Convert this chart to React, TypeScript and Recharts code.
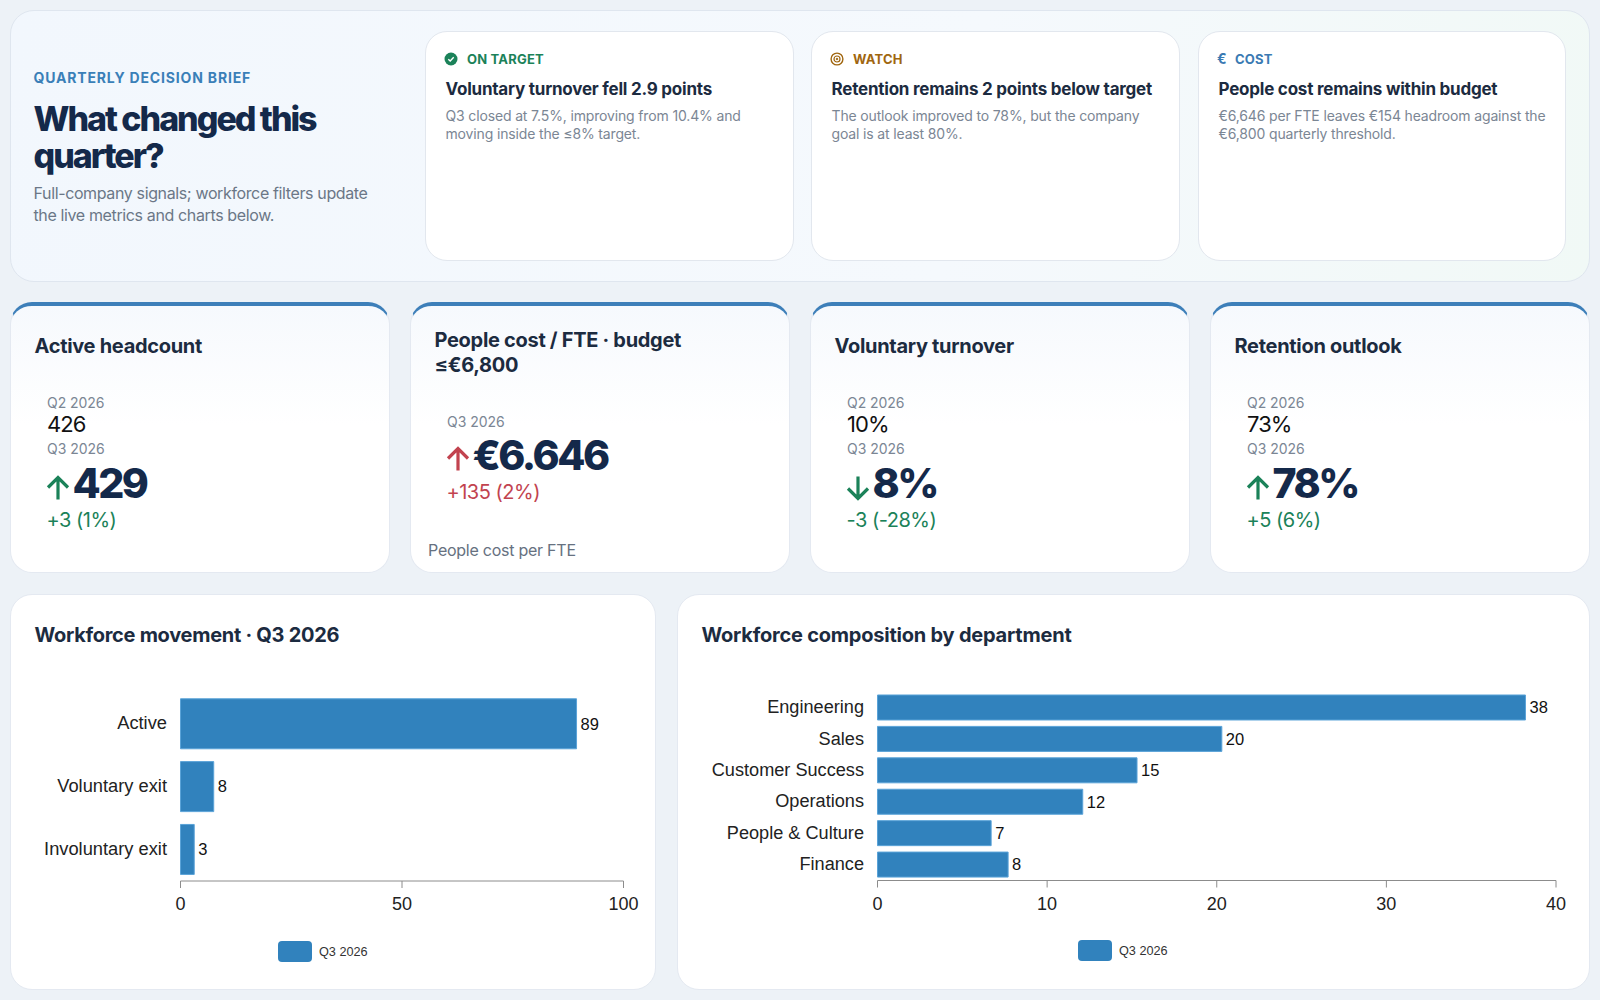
import React from "react";
import { BarChart, Bar, XAxis, YAxis, LabelList, Legend } from "recharts";

const movementLabels = ["Active", "Voluntary exit", "Involuntary exit"];
const movementValues = [89.4, 7.5, 3.1];
const movementTicks = [0, 50, 100];

const departmentLabels = ["Engineering", "Sales", "Customer Success", "Operations", "People & Culture", "Finance"];
const departmentValues = [38.2, 20.3, 15.3, 12.1, 6.7, 7.7];
const departmentTicks = [0, 10, 20, 30, 40];

const seriesName = "Q3 2026";

const UI = "Inter, 'Noto Sans', sans-serif";
const CHART_FONT = "'Liberation Sans', Arial, sans-serif";
const NAVY = "#14294a";
const BLUE = "#3182bd";
const GREEN = "#1b8259";
const RED = "#c2434f";

const T = ({ x, y, size, weight = 400, color, ls = 0, lh = 24, children }: any) => (
  <div
    style={{
      position: "absolute",
      left: x,
      top: y - lh / 2,
      fontFamily: UI,
      fontSize: size,
      fontWeight: weight,
      color,
      letterSpacing: ls,
      lineHeight: `${lh}px`,
      whiteSpace: "nowrap",
    }}
  >
    {children}
  </div>
);

const Card = ({ x, y, w, h, r = 22, style, children }: any) => (
  <div
    style={{
      position: "absolute",
      left: x,
      top: y,
      width: w,
      height: h,
      boxSizing: "border-box",
      background: "#fff",
      border: "1px solid #e4e9f1",
      borderRadius: r,
      ...style,
    }}
  >
    {children}
  </div>
);

const Arrow = ({ x, y, up, color }: any) => (
  <svg style={{ position: "absolute", left: x, top: y }} width={24} height={26} viewBox="0 0 24 26">
    <path
      d={up ? "M12 24.5V2.5M2 12.5L12 2.5L22 12.5" : "M12 1.5V23.5M2 13.5L12 23.5L22 13.5"}
      fill="none"
      stroke={color}
      strokeWidth={3.2}
    />
  </svg>
);

const CheckIcon = ({ x, y }: any) => (
  <svg style={{ position: "absolute", left: x, top: y }} width={14} height={14} viewBox="0 0 14 14">
    <circle cx={7} cy={7} r={6.5} fill={GREEN} />
    <path d="M4.3 7.2L6.2 9L9.7 5.2" fill="none" stroke="#fff" strokeWidth={1.4} />
  </svg>
);

const TargetIcon = ({ x, y }: any) => (
  <svg style={{ position: "absolute", left: x, top: y }} width={14} height={14} viewBox="0 0 14 14" fill="none" stroke="#a0660f">
    <circle cx={7} cy={7} r={5.9} strokeWidth={1.4} />
    <circle cx={7} cy={7} r={3} strokeWidth={1.2} />
    <circle cx={7} cy={7} r={0.8} fill="#a0660f" />
  </svg>
);

const insights = [
  {
    x: 425,
    w: 369,
    tag: "ON TARGET",
    tagX: 41,
    tagColor: GREEN,
    title: "Voluntary turnover fell 2.9 points",
    body: ["Q3 closed at 7.5%, improving from 10.4% and", "moving inside the ≤8% target."],
  },
  {
    x: 811,
    w: 369,
    tag: "WATCH",
    tagX: 41,
    tagColor: "#a0660f",
    title: "Retention remains 2 points below target",
    body: ["The outlook improved to 78%, but the company", "goal is at least 80%."],
  },
  {
    x: 1198,
    w: 368,
    tag: "COST",
    tagX: 36,
    tagColor: "#3a7ab3",
    title: "People cost remains within budget",
    body: ["€6,646 per FTE leaves €154 headroom against the", "€6,800 quarterly threshold."],
  },
];

const kpis = [
  { x: 10, title: ["Active headcount"], prev: "426", value: "429", up: true, color: GREEN, delta: "+3 (1%)" },
  { x: 410, title: ["People cost / FTE · budget", "≤€6,800"], value: "€6.646", up: true, color: RED, delta: "+135 (2%)", foot: "People cost per FTE" },
  { x: 810, title: ["Voluntary turnover"], prev: "10%", value: "8%", up: false, color: GREEN, delta: "-3 (-28%)" },
  { x: 1210, title: ["Retention outlook"], prev: "73%", value: "78%", up: true, color: GREEN, delta: "+5 (6%)" },
];

const LegendBox = () => (
  <div style={{ display: "flex", alignItems: "center", fontFamily: CHART_FONT, fontSize: 12.7, color: "#333" }}>
    <span style={{ width: 34, height: 21, background: BLUE, borderRadius: 4, marginRight: 7, display: "inline-block" }} />
    {seriesName}
  </div>
);

const HBar = ({ labels, values, ticks, width, height, margin, yWidth, gap, tickGap, labelSize, legendLeft, legendTop }: any) => {
  const data = labels.map((name: string, i: number) => ({ name, value: values[i] }));
  return (
    <BarChart
      width={width}
      height={height}
      data={data}
      layout="vertical"
      margin={margin}
      barCategoryGap={gap}
      style={{ position: "absolute", left: 0, top: 0 }}
    >
      <XAxis
        type="number"
        domain={[ticks[0], ticks[ticks.length - 1]]}
        ticks={ticks}
        height={50}
        interval={0}
        tickSize={7}
        tickMargin={tickGap}
        stroke="#8c8c8c"
        tick={{ fontFamily: CHART_FONT, fontSize: 18, fill: "#222" }}
      />
      <YAxis
        type="category"
        dataKey="name"
        width={yWidth}
        interval={0}
        axisLine={false}
        tickLine={false}
        tickSize={0}
        tickMargin={13.5}
        tick={{ fontFamily: CHART_FONT, fontSize: labelSize, fill: "#222", dy: -1 }}
      />
      <Legend
        content={LegendBox}
        layout="horizontal"
        verticalAlign="middle"
        wrapperStyle={{ left: legendLeft, top: legendTop, width: "auto" }}
      />
      <Bar dataKey="value" name={seriesName} fill={BLUE} stroke="#5aa3d8" strokeWidth={1} isAnimationActive={false}>
        <LabelList
          dataKey="value"
          position="right"
          offset={4}
          formatter={(v: number) => v.toFixed(0)}
          style={{ fontFamily: CHART_FONT, fontSize: 16.5, fill: "#111" }}
        />
      </Bar>
    </BarChart>
  );
};

const App = () => {
  return (
    <div
      style={{
        position: "absolute",
        left: 0,
        top: 0,
        width: 1600,
        height: 1000,
        overflow: "hidden",
        background: "#edf2f7",
      }}
    >
      <style>{"body{margin:0}"}</style>

      <Card
        x={10}
        y={10}
        w={1580}
        h={272}
        r={24}
        style={{ background: "linear-gradient(100deg,#f2f7fd 0%,#f5f9fd 60%,#f1f9f6 100%)", borderColor: "#dfe6ef" }}
      />
      <T x={33.5} y={78} size={14} weight={700} color="#3a7fb8" ls={0.83}>
        QUARTERLY DECISION BRIEF
      </T>
      <T x={33.5} y={118.5} size={34} weight={800} color={NAVY} ls={-2.03} lh={38}>
        What changed this
      </T>
      <T x={33.5} y={156} size={34} weight={800} color={NAVY} ls={-2.03} lh={38}>
        quarter?
      </T>
      <T x={33.5} y={193} size={16} color="#6b7787" ls={-0.37}>
        Full-company signals; workforce filters update
      </T>
      <T x={33.5} y={215} size={16} color="#6b7787" ls={-0.37}>
        the live metrics and charts below.
      </T>

      {insights.map((c, i) => (
        <Card key={c.tag} x={c.x} y={31} w={c.w} h={230} style={{ borderColor: "#e2e7ee" }}>
          {i === 0 && <CheckIcon x={18} y={20} />}
          {i === 1 && <TargetIcon x={18} y={20} />}
          {i === 2 && (
            <T x={18} y={27} size={14} weight={700} color={c.tagColor}>
              €
            </T>
          )}
          <T x={c.tagX} y={27} size={13} weight={700} color={c.tagColor} ls={0.2}>
            {c.tag}
          </T>
          <T x={19.5} y={57} size={17} weight={700} color="#1c2b40" ls={-0.22}>
            {c.title}
          </T>
          <T x={19.5} y={84} size={14} color="#7b8694" ls={-0.15} lh={18}>
            {c.body[0]}
          </T>
          <T x={19.5} y={102} size={14} color="#7b8694" ls={-0.15} lh={18}>
            {c.body[1]}
          </T>
        </Card>
      ))}

      {kpis.map((k) => {
        const twoLine = k.title.length > 1;
        return (
          <Card
            key={k.x}
            x={k.x}
            y={302}
            w={380}
            h={271}
            style={{
              borderTop: "4px solid #3d7fb9",
              background: "linear-gradient(180deg,#f6f9fd 0%,#ffffff 45%)",
            }}
          >
            {k.title.map((t, i) => (
              <T key={t} x={23.5} y={twoLine ? 34 + i * 24.5 : 40} size={20} weight={700} color="#1c2b40" ls={-0.3}>
                {t}
              </T>
            ))}
            {k.prev && (
              <>
                <T x={36} y={97} size={14} color="#7b8694" ls={-0.05}>
                  Q2 2026
                </T>
                <T x={36} y={118} size={22} color="#111" ls={-0.95}>
                  {k.prev}
                </T>
              </>
            )}
            <T x={36} y={twoLine ? 115.5 : 143} size={14} color="#7b8694" ls={-0.05}>
              Q3 2026
            </T>
            <Arrow x={35} y={twoLine ? 140 : 169} up={k.up} color={k.color} />
            <T x={61.5} y={twoLine ? 148.5 : 177} size={41} weight={800} color={NAVY} ls={-2.5} lh={48}>
              {k.value}
            </T>
            <T x={35.5} y={twoLine ? 186 : 214} size={20} color={k.color} ls={-0.5}>
              {k.delta}
            </T>
            {k.foot && (
              <T x={17} y={243.5} size={16} color="#667180" ls={-0.25}>
                {k.foot}
              </T>
            )}
          </Card>
        );
      })}

      <Card x={10} y={594} w={646} h={396}>
        <T x={23.5} y={40} size={20} weight={700} color="#1c2b40" ls={-0.28}>
          Workforce movement · Q3 2026
        </T>
        <HBar
          labels={movementLabels}
          values={movementValues}
          ticks={movementTicks}
          width={644}
          height={393}
          margin={{ top: 97.5, right: 31.5, bottom: 57, left: 0 }}
          yWidth={169.5}
          gap="10%"
          tickGap={9}
          labelSize={18.3}
          legendLeft={267}
          legendTop={346}
        />
      </Card>

      <Card x={677} y={594} w={913} h={396}>
        <T x={23.5} y={40} size={20} weight={700} color="#1c2b40" ls={-0.22}>
          Workforce composition by department
        </T>
        <HBar
          labels={departmentLabels}
          values={departmentValues}
          ticks={departmentTicks}
          width={911}
          height={393}
          margin={{ top: 97, right: 33, bottom: 57.5, left: 0 }}
          yWidth={199.5}
          gap="9.5%"
          tickGap={10}
          labelSize={18.15}
          legendLeft={400}
          legendTop={345}
        />
      </Card>
    </div>
  );
};

export default App;
